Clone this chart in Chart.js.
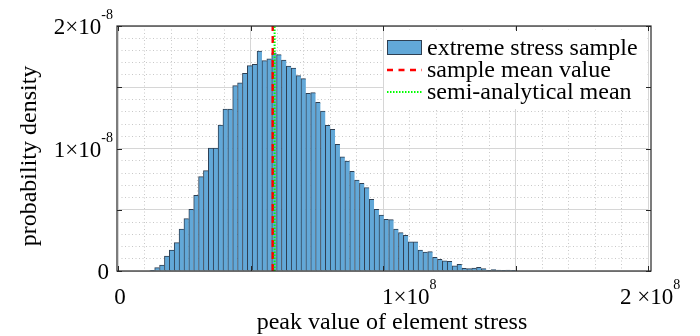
<!DOCTYPE html>
<html lang="en">
<head>
<meta charset="UTF-8">
<title>Peak element stress histogram</title>
<script src="https://cdn.jsdelivr.net/npm/chart.js"></script>
<style>
  html, body { margin: 0; padding: 0; background: #fff; }
  .chart-box { width: 700px; height: 336px; }
</style>
</head>
<body>
<div class="chart-box"><canvas id="stressChart"></canvas></div>
<script>
// bin centres of the histogram, peak stress in units of 1e6
const binCenters = [
  12.92, 14.76, 16.60, 18.44, 20.28, 22.12, 23.96, 25.80, 27.64, 29.48,
  31.32, 33.16, 35.00, 36.84, 38.68, 40.52, 42.36, 44.20, 46.04, 47.88,
  49.72, 51.56, 53.40, 55.24, 57.08, 58.92, 60.76, 62.60, 64.44, 66.28,
  68.12, 69.96, 71.80, 73.64, 75.48, 77.32, 79.16, 81.00, 82.84, 84.68,
  86.52, 88.36, 90.20, 92.04, 93.88, 95.72, 97.56, 99.40, 101.24, 103.08,
  104.92, 106.76, 108.60, 110.44, 112.28, 114.12, 115.96, 117.80, 119.64, 121.48,
  123.32, 125.16, 127.00, 128.84, 130.68, 132.52, 134.36, 136.20, 138.04, 139.88,
  141.72, 143.56, 145.40, 147.24, 149.08
];
// probability density of each bin, in units of 1e-9
const density = [
  0.03, 0.27, 0.49, 1.22, 1.71, 2.31, 3.43, 4.27, 5.03, 6.18,
  7.70, 8.19, 10.04, 10.04, 11.92, 13.22, 13.22, 15.13, 15.37, 16.14,
  16.76, 16.87, 17.96, 17.17, 17.31, 17.82, 17.66, 17.22, 16.73, 16.57,
  15.95, 15.70, 14.50, 14.56, 13.77, 13.06, 11.89, 11.57, 10.34, 9.31,
  8.98, 8.14, 7.43, 7.16, 6.80, 5.85, 5.03, 4.57, 4.22, 4.19,
  3.43, 3.13, 2.91, 2.39, 2.39, 1.71, 1.55, 1.58, 1.12, 0.95,
  0.84, 0.79, 0.43, 0.54, 0.22, 0.19, 0.24, 0.30, 0.19, 0.03,
  0.11, 0.08, 0.05, 0.08, 0.06
];
const sampleMean = 58.4;          // 1e6
const semiAnalyticalMean = 59.1;  // 1e6

const xTicks = [0, 100, 200];
const xTickBase = ['0', '1×10', '2 ×10'];
const xTickExp = ['', '8', '8'];
const yTicks = [0, 10, 20];
const yTickBase = ['0', '1×10', '2×10'];
const yTickExp = ['', '-8', '-8'];
const legendLabels = ['extreme stress sample', 'sample mean value', 'semi-analytical mean'];

const SERIF = '"Liberation Serif", "Times New Roman", serif';
const BAR_FILL = '#62a8d8';
const BAR_EDGE = '#2e3f52';

// base text plus a raised exponent, like matlab's tex labels
function supLabel(ctx, base, exp, x, y, align) {
  ctx.font = '23px ' + SERIF;
  const wb = ctx.measureText(base).width;
  ctx.font = '14px ' + SERIF;
  const we = exp ? ctx.measureText(exp).width : 0;
  let sx = x;
  if (align === 'right') sx = x - wb - we;
  if (align === 'center') sx = x - (wb + we) / 2;
  ctx.textAlign = 'left';
  ctx.textBaseline = 'alphabetic';
  ctx.font = '23px ' + SERIF;
  ctx.fillText(base, sx, y);
  if (exp) {
    ctx.font = '14px ' + SERIF;
    ctx.fillText(exp, sx + wb, y - 15);
  }
}

const matlabFrame = {
  id: 'matlabFrame',
  afterDatasetsDraw(chart) {
    const ctx = chart.ctx;
    // legend, white box without border
    ctx.save();
    ctx.fillStyle = '#fff';
    ctx.fillRect(384, 30, 263, 79);
    ctx.fillStyle = BAR_FILL;
    ctx.fillRect(387, 40, 35, 15);
    ctx.strokeStyle = BAR_EDGE;
    ctx.lineWidth = 1;
    ctx.strokeRect(387.5, 40.5, 34, 14);
    ctx.lineWidth = 2.5;
    ctx.strokeStyle = '#ff0000';
    ctx.setLineDash([6, 5.5]);
    ctx.beginPath(); ctx.moveTo(387, 70); ctx.lineTo(422, 70); ctx.stroke();
    ctx.lineWidth = 2;
    ctx.strokeStyle = '#00ff00';
    ctx.setLineDash([1.5, 1.5]);
    ctx.beginPath(); ctx.moveTo(387, 92); ctx.lineTo(422, 92); ctx.stroke();
    ctx.setLineDash([]);
    ctx.fillStyle = '#000';
    ctx.font = '24px ' + SERIF;
    ctx.textAlign = 'left';
    ctx.textBaseline = 'alphabetic';
    ctx.fillText(legendLabels[0], 427, 55);
    ctx.fillText(legendLabels[1], 427, 77);
    ctx.fillText(legendLabels[2], 427, 99);
    ctx.restore();
  },
  afterDraw(chart) {
    const ctx = chart.ctx;
    const a = chart.chartArea;
    const xs = chart.scales.x, ys = chart.scales.y;
    ctx.save();
    // box
    ctx.strokeStyle = '#262626';
    ctx.lineWidth = 1.2;
    ctx.strokeRect(a.left - 1, a.top, a.right - a.left + 4, a.bottom - a.top);
    // inward ticks on all four sides
    ctx.lineWidth = 1;
    ctx.beginPath();
    for (let v = 0; v <= 200; v += 50) {
      const px = Math.round(xs.getPixelForValue(v)) + 0.5;
      ctx.moveTo(px, a.bottom); ctx.lineTo(px, a.bottom - 5);
      ctx.moveTo(px, a.top); ctx.lineTo(px, a.top + 5);
    }
    for (let v = 0; v <= 20; v += 5) {
      const py = Math.round(ys.getPixelForValue(v)) + 0.5;
      ctx.moveTo(a.left - 1, py); ctx.lineTo(a.left + 4, py);
      ctx.moveTo(a.right + 3, py); ctx.lineTo(a.right - 2, py);
    }
    ctx.stroke();
    // tick labels
    ctx.fillStyle = '#000';
    xTicks.forEach((v, i) => {
      const px = xs.getPixelForValue(v);
      if (i === 0) supLabel(ctx, xTickBase[i], xTickExp[i], px + 2, a.bottom + 33, 'center');
      else if (i === 1) supLabel(ctx, xTickBase[i], xTickExp[i], px - 1, a.bottom + 33, 'left');
      else supLabel(ctx, xTickBase[i], xTickExp[i], px - 28, a.bottom + 33, 'left');
    });
    yTicks.forEach((v, i) => {
      const py = ys.getPixelForValue(v);
      supLabel(ctx, yTickBase[i], yTickExp[i], i === 0 ? a.left - 9 : a.left - 5, py + 8, 'right');
    });
    // axis titles
    ctx.font = '24px ' + SERIF;
    ctx.textAlign = 'center';
    ctx.textBaseline = 'alphabetic';
    ctx.fillText('peak value of element stress', 392, 329);
    ctx.translate(36, 156);
    ctx.rotate(-Math.PI / 2);
    ctx.fillText('probability density', 0, 0);
    ctx.restore();
  }
};

const histData = binCenters.map((c, i) => ({ x: c, y: density[i] }));

new Chart(document.getElementById('stressChart'), {
  type: 'bar',
  data: {
    datasets: [
      {
        label: legendLabels[0],
        data: histData,
        backgroundColor: BAR_FILL,
        borderColor: BAR_EDGE,
        borderWidth: { left: 1, top: 1, right: 0, bottom: 0 },
        borderSkipped: false,
        barPercentage: 1,
        categoryPercentage: 1,
        order: 3
      },
      {
        type: 'line',
        label: legendLabels[1],
        data: [{ x: sampleMean, y: 0 }, { x: sampleMean, y: 20 }],
        borderColor: '#ff0000',
        borderWidth: 2.5,
        borderDash: [7, 5],
        pointRadius: 0,
        fill: false,
        order: 2
      },
      {
        type: 'line',
        label: legendLabels[2],
        data: [{ x: semiAnalyticalMean, y: 0 }, { x: semiAnalyticalMean, y: 20 }],
        borderColor: '#00ff00',
        borderWidth: 2,
        borderDash: [1.5, 1.5],
        pointRadius: 0,
        fill: false,
        order: 1
      }
    ]
  },
  options: {
    responsive: true,
    maintainAspectRatio: false,
    animation: false,
    layout: { padding: { left: 118, top: 26, right: 52, bottom: 65 } },
    plugins: { legend: { display: false }, tooltip: { enabled: false } },
    scales: {
      xMinor: {
        type: 'linear', position: 'bottom', min: 0, max: 200, offset: false,
        ticks: { display: false, stepSize: 10 },
        grid: { color: '#c8c8c8', drawTicks: false, offset: false },
        border: { display: false, dash: [1, 2.5] }
      },
      yMinor: {
        type: 'linear', position: 'left', min: 0, max: 20,
        ticks: { display: false, stepSize: 1 },
        grid: { color: '#c8c8c8', drawTicks: false },
        border: { display: false, dash: [1, 2.5] }
      },
      x: {
        type: 'linear', min: 0, max: 200, offset: false,
        ticks: { display: false, stepSize: 50 },
        grid: { color: '#d6d6d6', drawTicks: false, offset: false },
        border: { display: false }
      },
      y: {
        type: 'linear', min: 0, max: 20,
        ticks: { display: false, stepSize: 5 },
        grid: { color: '#d6d6d6', drawTicks: false },
        border: { display: false }
      }
    }
  },
  plugins: [matlabFrame]
});
</script>
</body>
</html>
